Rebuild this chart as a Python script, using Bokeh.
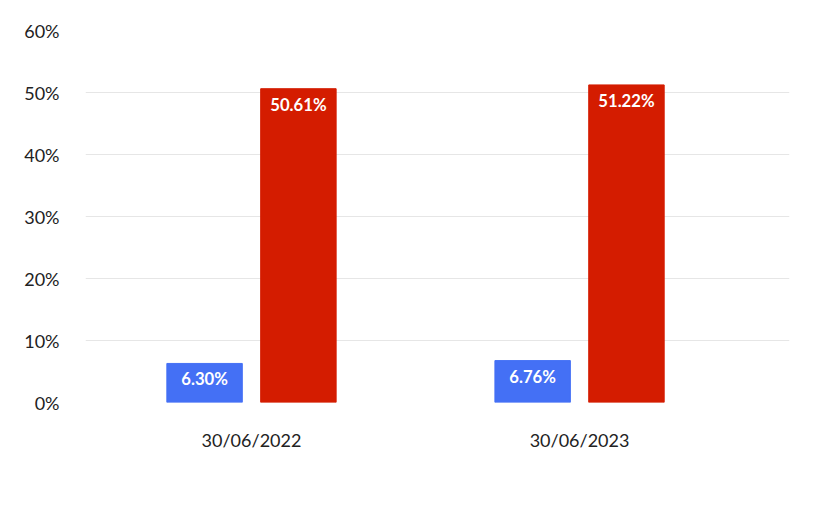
from bokeh.plotting import figure
from bokeh.models import ColumnDataSource, Legend, LegendItem, FixedTicker
from bokeh.core.properties import value
from bokeh.embed import file_html
from bokeh.resources import INLINE

dates = ["30/06/2022", "30/06/2023"]
class_funds = [6.30, 6.76]
apra_funds = [50.61, 51.22]
y_ticks = [0, 10, 20, 30, 40, 50, 60]

FONT = "Lato"
xs = list(range(len(dates)))
off, w = 0.143, 0.23
src_c = ColumnDataSource(dict(x=[i - off for i in xs], top=class_funds, lab=[f"{v:.2f}%" for v in class_funds]))
src_a = ColumnDataSource(dict(x=[i + off for i in xs], top=apra_funds, lab=[f"{v:.2f}%" for v in apra_funds]))

p = figure(width=798, height=498, output_backend="svg", toolbar_location=None,
           x_range=(-0.506, 1.64), y_range=(0, 60),
           min_border_left=85, min_border_top=30, min_border_right=9, min_border_bottom=96)
p.outline_line_color = None
rc = p.vbar(x="x", top="top", width=w, source=src_c, color="#4470f5")
ra = p.vbar(x="x", top="top", width=w, source=src_a, color="#d41c00")
for s in (src_c, src_a):
    p.text(x="x", y="top", text="lab", source=s, text_color="white", text_font_style="bold",
           text_font_size="12.5pt", text_align="center", text_baseline="top", y_offset=6,
           text_font=value(FONT))

p.xaxis.ticker = FixedTicker(ticks=xs)
p.xaxis.major_label_overrides = {i: d for i, d in enumerate(dates)}
p.yaxis.ticker = FixedTicker(ticks=y_ticks)
p.yaxis.major_label_overrides = {t: f"{t}%" for t in y_ticks}
for ax in (p.xaxis, p.yaxis):
    ax.axis_line_color = None
    ax.major_tick_line_color = None
    ax.minor_tick_line_color = None
    ax.major_label_text_font = FONT
    ax.major_label_text_font_size = "13.5pt"
    ax.major_label_text_color = "#222222"
p.xaxis.major_label_standoff = 20
p.yaxis.major_label_standoff = 20
p.xgrid.grid_line_color = None
p.ygrid.grid_line_color = "#e6e6e6"

leg = Legend(items=[LegendItem(label="Class funds", renderers=[rc]),
                    LegendItem(label="APRA funds", renderers=[ra])],
             orientation="horizontal", location=(327, -94), border_line_color=None,
             background_fill_alpha=0,
             label_text_font=FONT, label_text_font_size="13pt", label_text_color="#222222",
             glyph_width=16, glyph_height=16, spacing=12, margin=0, padding=0)
p.add_layout(leg, "center")

open("out.html", "w").write(file_html(p, INLINE))
